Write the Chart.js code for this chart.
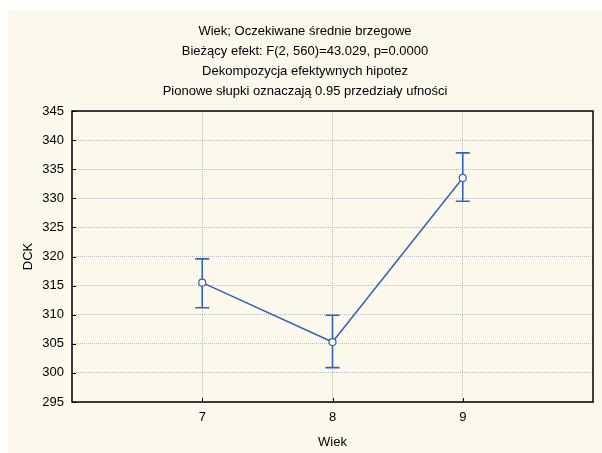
<!DOCTYPE html>
<html>
<head>
<meta charset="utf-8">
<script src="https://cdn.jsdelivr.net/npm/chart.js@4/dist/chart.umd.min.js"></script>
<style>
  html, body { margin: 0; padding: 0; background: #ffffff; }
  #wrap { position: absolute; left: 8px; top: 10px; width: 594px; height: 443px; background: #fdf8ec; }
  canvas { display: block; }
</style>
</head>
<body>
<div id="wrap"><canvas id="c" width="594" height="443"></canvas></div>
<script>
// Age groups and marginal means of DCK with 0.95 confidence limits
const ages = [7, 8, 9];
const means = [315.5, 305.3, 333.5];
const lowerCI = [311.2, 300.9, 329.5];
const upperCI = [319.6, 309.9, 337.8];
const yTicks = [295, 300, 305, 310, 315, 320, 325, 330, 335, 340, 345];

const titleLines = [
  'Wiek; Oczekiwane średnie brzegowe',
  'Bieżący efekt: F(2, 560)=43.029, p=0.0000',
  'Dekompozycja efektywnych hipotez',
  'Pionowe słupki oznaczają 0.95 przedziały ufności'
];

const BLUE = '#3164b2';
const FONT = 'Liberation Sans, Arial, sans-serif';

// Plot frame, inward tick marks and confidence-interval whiskers
const framePlugin = {
  id: 'frameAndWhiskers',
  afterDatasetsDraw(chart) {
    const { ctx, chartArea: a, scales: { x, y } } = chart;
    ctx.save();
    // whiskers
    ctx.strokeStyle = BLUE;
    ctx.lineWidth = 1.6;
    ages.forEach((age, i) => {
      const px = x.getPixelForValue(age);
      const top = y.getPixelForValue(upperCI[i]);
      const bot = y.getPixelForValue(lowerCI[i]);
      const mid = y.getPixelForValue(means[i]);
      const r = 3.5;
      ctx.beginPath();
      ctx.moveTo(px, top); ctx.lineTo(px, mid - r);
      ctx.moveTo(px, mid + r); ctx.lineTo(px, bot);
      ctx.moveTo(px - 7, top); ctx.lineTo(px + 7, top);
      ctx.moveTo(px - 7, bot); ctx.lineTo(px + 7, bot);
      ctx.stroke();
    });
    // frame
    ctx.strokeStyle = '#000000';
    ctx.lineWidth = 1.5;
    ctx.strokeRect(a.left, a.top, a.right - a.left, a.bottom - a.top);
    // inward ticks
    ctx.lineWidth = 1;
    ctx.beginPath();
    yTicks.forEach(v => {
      const py = Math.round(y.getPixelForValue(v)) + 0.5;
      ctx.moveTo(a.left, py); ctx.lineTo(a.left + 4, py);
    });
    ages.forEach(v => {
      const px = Math.round(x.getPixelForValue(v)) + 0.5;
      ctx.moveTo(px, a.bottom); ctx.lineTo(px, a.bottom - 4);
    });
    ctx.stroke();
    ctx.restore();
  }
};

new Chart(document.getElementById('c'), {
  type: 'line',
  data: {
    datasets: [{
      data: ages.map((a, i) => ({ x: a, y: means[i] })),
      borderColor: BLUE,
      borderWidth: 1.5,
      pointRadius: 3.5,
      pointBackgroundColor: '#ffffff',
      pointBorderColor: BLUE,
      pointBorderWidth: 1.2,
      tension: 0
    }]
  },
  options: {
    responsive: false,
    animation: false,
    events: [],
    layout: { padding: 0 },
    plugins: {
      legend: { display: false },
      tooltip: { enabled: false },
      title: {
        display: true,
        text: titleLines,
        color: '#000000',
        font: { family: FONT, size: 13, weight: 'normal', lineHeight: '20px' },
        padding: { top: 11, bottom: 10 }
      }
    },
    scales: {
      x: {
        type: 'linear',
        min: 6,
        max: 10,
        afterBuildTicks: s => { s.ticks = ages.map(v => ({ value: v })); },
        afterFit: s => { s.height = 51; },
        grid: { color: '#bcbcbc', drawTicks: false, lineWidth: 1 },
        border: { display: false, dash: [1, 1] },
        ticks: { color: '#000000', font: { family: FONT, size: 13 }, padding: 8, callback: v => String(v) },
        title: { display: true, text: 'Wiek', color: '#000000', font: { family: FONT, size: 13 }, padding: { bottom: 3 } }
      },
      y: {
        min: 295,
        max: 345,
        afterBuildTicks: s => { s.ticks = yTicks.map(v => ({ value: v })); },
        afterFit: s => { s.width = 64; },
        grid: { color: '#bcbcbc', drawTicks: false, lineWidth: 1 },
        border: { display: false, dash: [1, 1] },
        ticks: { color: '#000000', font: { family: FONT, size: 13 }, padding: 8, callback: v => String(v) },
        title: { display: true, text: 'DCK', color: '#000000', font: { family: FONT, size: 13 }, padding: { top: 13 } }
      },
      // empty strip on the right edge of the plot
      yRight: {
        position: 'right',
        min: 295,
        max: 345,
        afterFit: s => { s.width = 9; },
        ticks: { display: false },
        grid: { display: false, drawTicks: false },
        border: { display: false }
      }
    }
  },
  plugins: [framePlugin]
});
</script>
</body>
</html>
